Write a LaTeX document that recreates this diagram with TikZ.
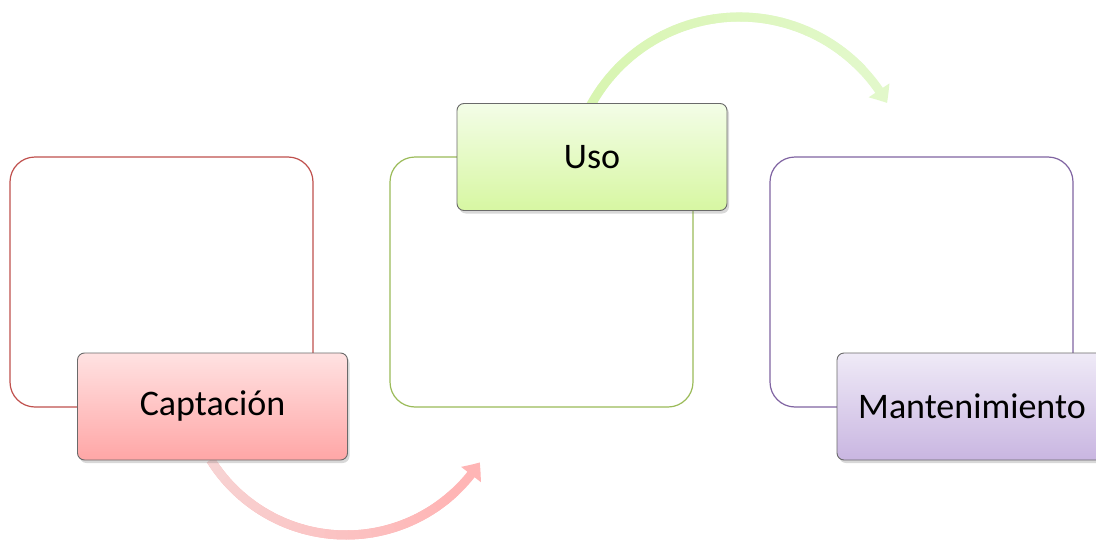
\documentclass[tikz,border=0pt]{standalone}
\usepackage{fontspec}
\setmainfont{Carlito}
\usetikzlibrary{shadows,arrows.meta,bending}
\definecolor{redline}{HTML}{C0504D}
\definecolor{greenline}{HTML}{9BBB59}
\definecolor{purpleline}{HTML}{8064A2}
\definecolor{boxgray}{HTML}{6A6A6A}
\definecolor{redtop}{HTML}{FFE2E2}
\definecolor{redbot}{HTML}{FFA6A6}
\definecolor{greentop}{HTML}{F3FDE7}
\definecolor{greenbot}{HTML}{D7F7A2}
\definecolor{purptop}{HTML}{EFEAF7}
\definecolor{purpbot}{HTML}{C9B6E1}
\definecolor{pinkA}{HTML}{F7D3D3}
\definecolor{pinkB}{HTML}{FFB5B5}
\definecolor{grnA}{HTML}{D8F5B0}
\definecolor{grnB}{HTML}{E2F8CA}
\begin{document}
\begin{tikzpicture}[x=1pt,y=1pt,
  bigbox/.style={draw, line width=1.2pt, fill=white, rounded corners=25pt,
    minimum width=303pt, minimum height=250pt, inner sep=0pt},
  labelbox/.style={draw=boxgray, line width=0.9pt, rounded corners=7pt,
    minimum width=270pt, minimum height=107pt, inner sep=0pt,
    font=\fontsize{36}{43}\selectfont,
    drop shadow={shadow xshift=2pt, shadow yshift=-3pt, opacity=0.3}},
  arrowbody/.style={line width=9pt},
  arrowtip/.style={-{Triangle[width=24pt,length=15pt,bend]}}
]
\clip (0,0) rectangle (1096,-541);
\fill[white] (0,0) rectangle (1096,-541);

% big boxes
\node[bigbox, draw=redline] (b1) at (161.5,-282) {};
\node[bigbox, draw=greenline] (b2) at (541.5,-282) {};
\node[bigbox, draw=purpleline] (b3) at (921.5,-282) {};

% arc centres
\coordinate (c1) at (346,-375.5);
\coordinate (c2) at (739.5,-186.5);

% pink arrow (Captacion -> Uso)
\draw[arrowbody, pinkB, arrowtip] (c1) ++(212:159.5) arc[start angle=212, end angle=327, radius=159.5];
\foreach \i in {0,...,23}{
  \pgfmathsetmacro\aa{212+\i*4.2}
  \pgfmathsetmacro\p{100*\i/23}
  \draw[arrowbody, pinkB!\p!pinkA] (c1) ++(\aa:159.5) arc[start angle=\aa, end angle=\aa+4.5, radius=159.5];
}

% green arrow (Uso -> Mantenimiento)
\draw[arrowbody, grnB, arrowtip] (c2) ++(154:169.5) arc[start angle=154, end angle=29.5, radius=169.5];
\foreach \i in {0,...,23}{
  \pgfmathsetmacro\aa{154-\i*4.6}
  \pgfmathsetmacro\p{100*\i/23}
  \draw[arrowbody, grnB!\p!grnA] (c2) ++(\aa:169.5) arc[start angle=\aa, end angle=\aa-4.9, radius=169.5];
}

% label boxes
\node[labelbox, top color=redtop, bottom color=redbot] (cap) at (212.5,-406.5) {Captación};
\node[labelbox, top color=greentop, bottom color=greenbot] (uso) at (592,-157) {Uso};
\node[labelbox, top color=purptop, bottom color=purpbot] (man) at (972,-406.5) {Mantenimiento};
\end{tikzpicture}
\end{document}
